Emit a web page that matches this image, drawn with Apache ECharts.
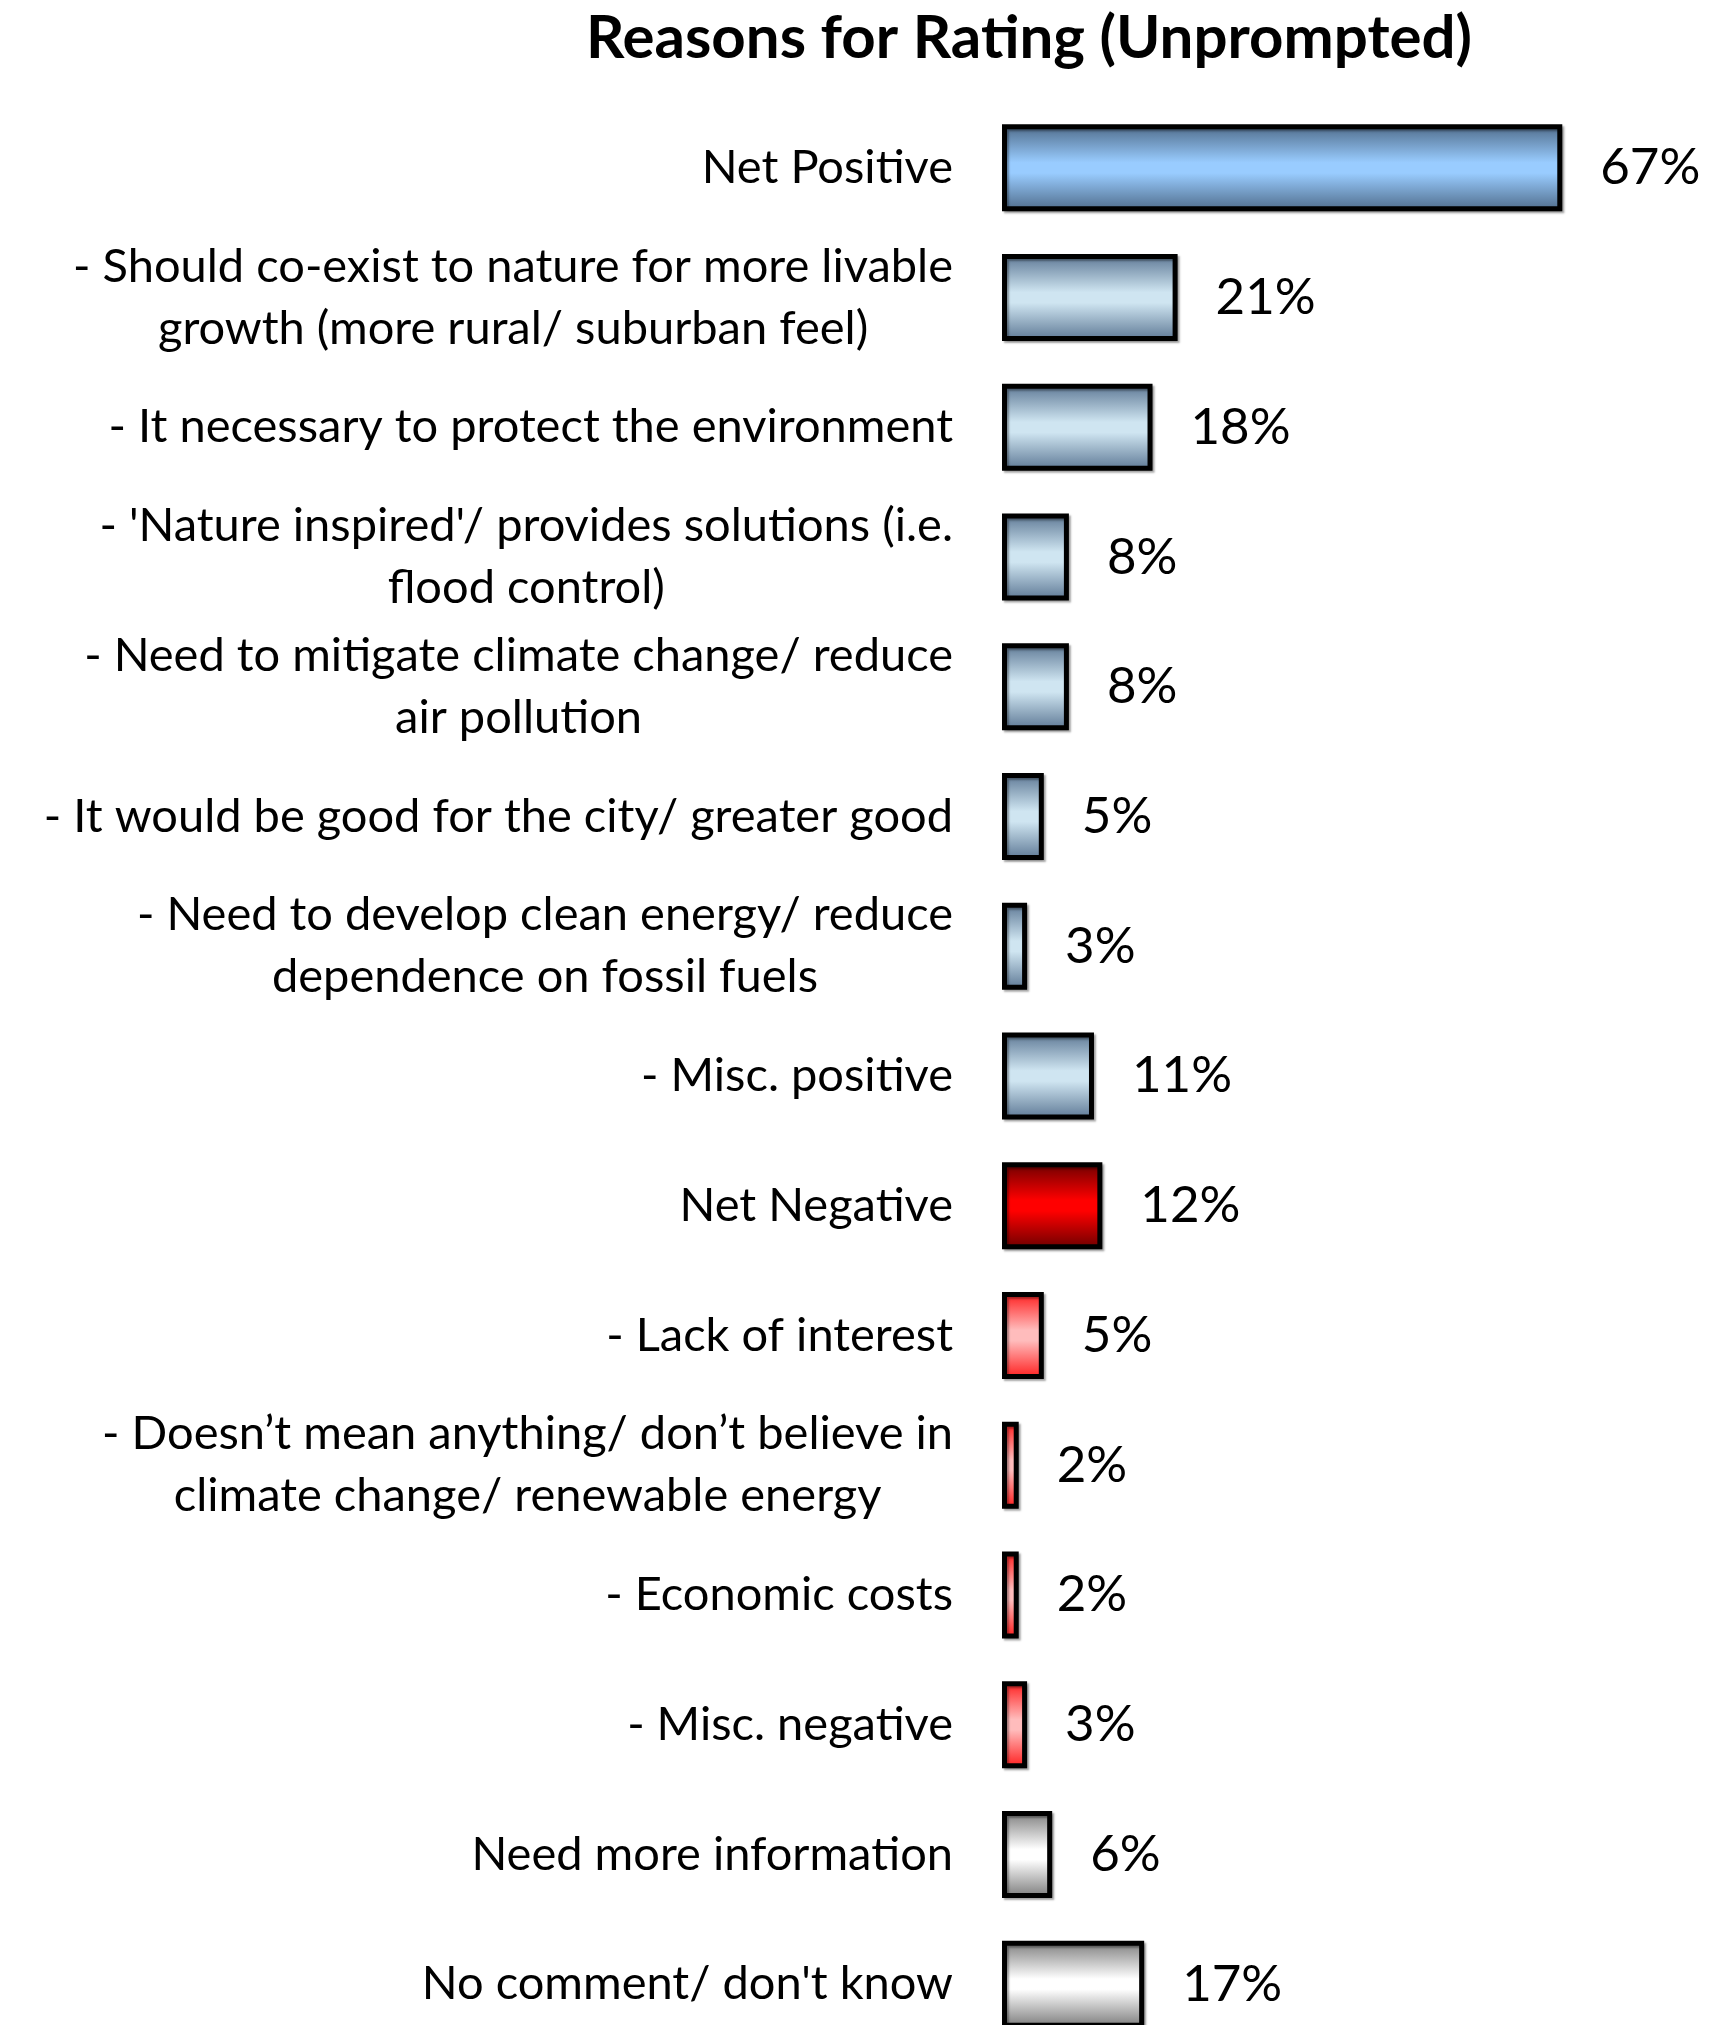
<!DOCTYPE html>
<html><head><meta charset="utf-8">
<script src="https://cdn.jsdelivr.net/npm/echarts@6/dist/echarts.min.js"></script>
<style>html,body{margin:0;padding:0;background:#fff}#c{width:1730px;height:2025px}</style>
</head><body><div id="c"></div>
<script>
const categories = [
  "Net Positive",
  "- Should co-exist to nature for more livable\ngrowth (more rural/ suburban feel)",
  "- It necessary to protect the environment",
  "- 'Nature inspired'/ provides solutions (i.e.\nflood control)",
  "- Need to mitigate climate change/ reduce\nair pollution",
  "- It would be good for the city/ greater good",
  "- Need to develop clean energy/ reduce\ndependence on fossil fuels",
  "- Misc. positive",
  "Net Negative",
  "- Lack of interest",
  "- Doesn\u2019t mean anything/ don\u2019t believe in\nclimate change/ renewable energy",
  "- Economic costs",
  "- Misc. negative",
  "Need more information",
  "No comment/ don't know"
];
const values = [67, 21, 18, 8, 8, 5, 3, 11, 12, 5, 2, 2, 3, 6, 17];
const groups = ["netPos","pos","pos","pos","pos","pos","pos","pos","netNeg","neg","neg","neg","neg","gray","gray"];

const FONT = "Lato";
function grad(edge, mid) {
  return new echarts.graphic.LinearGradient(0, 0, 0, 1, [
    {offset: 0, color: edge}, {offset: 0.44, color: mid}, {offset: 0.56, color: mid}, {offset: 1, color: edge}
  ]);
}
const palette = {
  netPos: () => grad('#4e6a88', '#99ccff'),
  pos:    () => grad('#5b7693', '#cfe5f1'),
  netNeg: () => grad('#6a0000', '#ff0000'),
  neg:    () => grad('#ff1a1a', '#ffbcbc'),
  gray:   () => grad('#7a7a7a', '#ffffff')
};

const chart = echarts.init(document.getElementById('c'), null, {renderer: 'canvas'});
chart.setOption({
  animation: false,
  backgroundColor: '#ffffff',
  title: {
    text: 'Reasons for Rating (Unprompted)',
    left: 1024, textAlign: 'center', top: 4,
    textStyle: {fontFamily: FONT, fontWeight: 'bold', fontSize: 60, color: '#000'}
  },
  grid: {left: 1002, top: 103, width: 669, height: 1946, containLabel: false, outerBoundsMode: 'none'},
  xAxis: {
    type: 'value', min: 0, max: 80, show: false
  },
  yAxis: {
    type: 'category', inverse: true, data: categories,
    axisLine: {show: false}, axisTick: {show: false}, splitLine: {show: false},
    axisLabel: {
      margin: 49, color: '#000', fontFamily: FONT, fontSize: 47,
      formatter: v => v.split('\n').map(s => '{c|' + s + '}').join('\n'),
      rich: {c: {align: 'center', fontFamily: FONT, fontSize: 47, lineHeight: 62, color: '#000'}}
    }
  },
  series: [{
    type: 'bar', barWidth: 87,
    data: values.map((v, i) => ({
      value: v,
      itemStyle: {
        color: palette[groups[i]](), borderColor: '#000', borderWidth: 5,
        shadowColor: 'rgba(0,0,0,0.35)', shadowBlur: 2, shadowOffsetX: 2, shadowOffsetY: 2
      }
    })),
    label: {
      show: true, position: 'right', distance: 38,
      formatter: p => p.value + '%',
      fontFamily: FONT, fontSize: 51, color: '#000'
    }
  }]
});
</script></body></html>
